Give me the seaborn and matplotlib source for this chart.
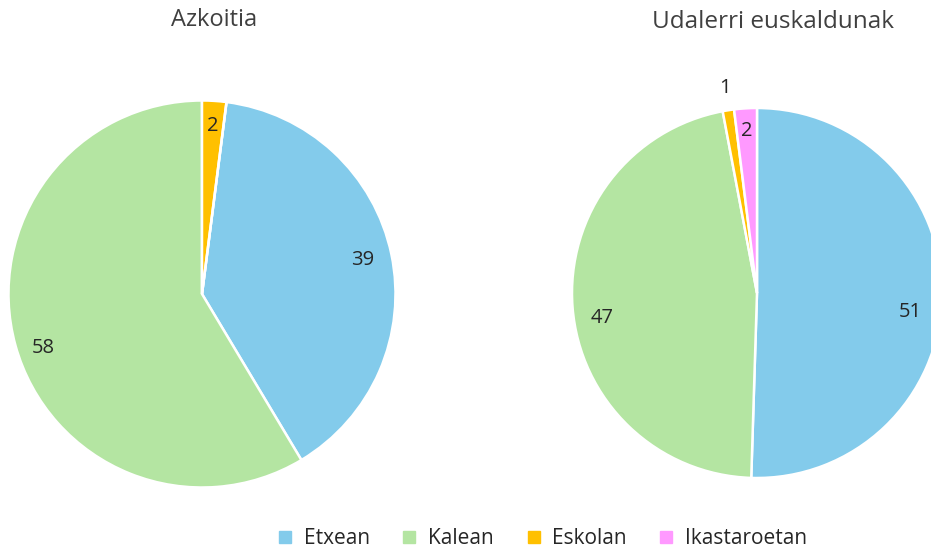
"""Two pie charts: where people speak Basque, Azkoitia vs Basque-speaking towns."""
import matplotlib.pyplot as plt
import seaborn as sns
import numpy as np

# data
categories = ['Etxean', 'Kalean', 'Eskolan', 'Ikastaroetan']
azkoitia = [39, 58, 2, 0]
udalerri = [51, 47, 1, 2]
titles = ['Azkoitia', 'Udalerri euskaldunak']

colors = sns.color_palette(['#83CBEB', '#B4E5A2', '#FFC000', '#FF99FF'])

sns.set_style('white')
plt.rcParams['font.family'] = ['Open Sans', 'DejaVu Sans']
text_color = '#262626'

fig = plt.figure(figsize=(9.31, 5.5), dpi=100)
W, H = 931, 550


def pie_axes(cx, cy, r):
    # axes box in pixel terms -> figure fraction, pie radius 1 fills it
    return fig.add_axes([(cx - r) / W, (H - cy - r) / H, 2 * r / W, 2 * r / H])


ax1 = pie_axes(202, 294, 193.5)
ax2 = pie_axes(757, 293, 185)

wedge_style = dict(edgecolor='white', linewidth=1.8)
label_style = dict(fontsize=14.5, color=text_color)

# left pie: last slice wraps over 12 o'clock, so rotate start by its share
shift = 360 * azkoitia[2] / sum(azkoitia)
w1, t1 = ax1.pie(azkoitia, colors=colors, startangle=90 - shift, counterclock=False,
                 wedgeprops=wedge_style, labels=[str(v) if v else '' for v in azkoitia],
                 labeldistance=0.85, textprops=label_style)
w2, t2 = ax2.pie(udalerri, colors=colors, startangle=90, counterclock=False,
                 wedgeprops=wedge_style, labels=[str(v) for v in udalerri],
                 labeldistance=0.84, textprops=label_style)


def place(wedge, text, dist, dy=0.0):
    mid = np.deg2rad((wedge.theta1 + wedge.theta2) / 2)
    text.set_position((dist * np.cos(mid), dist * np.sin(mid) + dy))
    text.set_ha('center')
    text.set_va('center')


# nudges to match the spreadsheet's label placement
place(w1[0], t1[0], 0.85)
place(w1[1], t1[1], 0.85, -0.05)
place(w1[2], t1[2], 0.87)
place(w2[0], t2[0], 0.83, -0.09)
place(w2[1], t2[1], 0.84, -0.07)
place(w2[2], t2[2], 1.12)   # tiny slice, label outside
place(w2[3], t2[3], 0.88)

for ax in (ax1, ax2):
    ax.set_xlim(-1, 1)
    ax.set_ylim(-1, 1)
    ax.set_aspect('equal')
    ax.axis('off')

fig.text(214 / W, 1 - 20 / H, titles[0], ha='center', va='center', fontsize=17, color='#404040')
fig.text(773 / W, 1 - 22 / H, titles[1], ha='center', va='center', fontsize=17.5, color='#404040')

handles = [plt.Line2D([], [], marker='s', linestyle='', markersize=8, color=c) for c in colors]
fig.legend(handles, categories, loc='center', bbox_to_anchor=(542 / W, 1 - 539 / H),
           ncol=4, frameon=False, fontsize=15, handlelength=0.8, handletextpad=0.5,
           columnspacing=1.5, labelcolor=text_color)

fig.savefig('out.png', dpi=100)
